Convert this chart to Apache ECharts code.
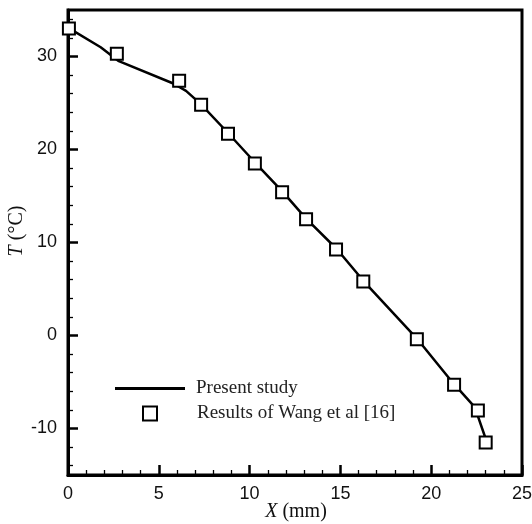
<!DOCTYPE html>
<html>
<head>
<meta charset="utf-8">
<script src="https://cdn.jsdelivr.net/npm/echarts@6/dist/echarts.min.js"></script>
<style>html,body{margin:0;padding:0;background:#fff;}#c{width:532px;height:524px;}</style>
</head>
<body>
<div id="c"></div>
<script>
// Present study (line)
const studyX = [0, 1.8, 2.8, 5.8, 6.5, 7.3, 8.8, 10.3, 11.8, 13.1, 14.8, 16.3, 19.2, 21.2, 22.4, 23.0];
const studyT = [33.1, 31.0, 29.5, 27.1, 26.3, 24.9, 21.8, 18.6, 15.5, 12.6, 9.3, 5.8, -0.3, -5.1, -7.7, -11.1];
// Results of Wang et al [16] (squares)
const wangX = [0.05, 2.69, 6.12, 7.33, 8.81, 10.29, 11.79, 13.11, 14.76, 16.26, 19.21, 21.26, 22.57, 23.0];
const wangT = [33.0, 30.3, 27.4, 24.8, 21.7, 18.5, 15.4, 12.5, 9.26, 5.8, -0.39, -5.3, -8.07, -11.5];
// Axis ticks
const xTicks = [0, 5, 10, 15, 20, 25];
const yMajor = [-10, 0, 10, 20, 30];
const yMinor = [-14, -12, -8, -6, -4, -2, 2, 4, 6, 8, 12, 14, 16, 18, 22, 24, 26, 28, 32, 34];

const zip = (a, b) => a.map((v, i) => [v, b[i]]);
const chart = echarts.init(document.getElementById('c'), null, {renderer: 'canvas'});
const labelFont = {fontFamily: 'Liberation Sans, Arial, sans-serif', fontSize: 18, color: '#111'};
const serif = 'Liberation Serif, Times New Roman, serif';

chart.setOption({
  animation: false,
  backgroundColor: '#fff',
  grid: {left: 68, right: 10, top: 10, bottom: 49, containLabel: false, outerBoundsMode: 'none',
         show: true, borderColor: '#000', borderWidth: 3},
  xAxis: {
    type: 'value', min: xTicks[0], max: xTicks[xTicks.length - 1], interval: 5,
    axisLine: {show: true, onZero: false, lineStyle: {color: '#000', width: 3}},
    axisTick: {show: true, inside: true, length: 10, lineStyle: {color: '#000', width: 2.5}},
    minorTick: {show: true, splitNumber: 5, length: 5, lineStyle: {color: '#000', width: 1.3}},
    splitLine: {show: false},
    axisLabel: Object.assign({margin: 10}, labelFont)
  },
  yAxis: [{
    type: 'value', min: -15, max: 35,
    axisLine: {show: true, onZero: false, lineStyle: {color: '#000', width: 3}},
    axisTick: {show: true, inside: true, length: 10, customValues: yMajor, lineStyle: {color: '#000', width: 2.5}},
    splitLine: {show: false},
    axisLabel: Object.assign({margin: 11, customValues: yMajor}, labelFont)
  }, {
    type: 'value', min: -15, max: 35, position: 'left',
    axisLine: {show: false, onZero: false},
    axisTick: {show: true, inside: true, length: 5, customValues: yMinor, lineStyle: {color: '#000', width: 1.3}},
    splitLine: {show: false},
    axisLabel: {show: false}
  }],
  legend: [{
    data: [{name: 'Present study', icon: 'rect'}], left: 115, top: 379, itemWidth: 70, itemHeight: 3,
    orient: 'vertical', padding: 0,
    textStyle: {fontFamily: serif, fontSize: 19, color: '#222', padding: [0, 0, 0, 6]}
  }, {
    data: ['Results of Wang et al [16]'], left: 142, top: 404, itemWidth: 14, itemHeight: 14,
    orient: 'vertical', padding: 0,
    textStyle: {fontFamily: serif, fontSize: 19, color: '#222', padding: [0, 0, 0, 35]}
  }],
  graphic: [{
    type: 'text', x: 17, y: 231, rotation: Math.PI / 2,
    style: {
      text: '{i|T} (°C)', textAlign: 'center', textVerticalAlign: 'middle',
      fontFamily: serif, fontSize: 20, fill: '#111',
      rich: {i: {fontFamily: serif, fontStyle: 'italic', fontSize: 20, fill: '#111'}}
    }
  }, {
    type: 'text', x: 296, y: 512,
    style: {
      text: '{i|X} (mm)', textAlign: 'center', textVerticalAlign: 'middle',
      fontFamily: serif, fontSize: 20, fill: '#111',
      rich: {i: {fontFamily: serif, fontStyle: 'italic', fontSize: 20, fill: '#111'}}
    }
  }],
  series: [{
    name: 'Present study', type: 'line', data: zip(studyX, studyT),
    symbol: 'none', lineStyle: {color: '#000', width: 2.5}, itemStyle: {color: '#000'}, z: 2
  }, {
    name: 'Results of Wang et al [16]', type: 'scatter', data: zip(wangX, wangT),
    symbol: 'rect', symbolSize: 12,
    itemStyle: {color: '#fff', borderColor: '#000', borderWidth: 2, opacity: 1}, z: 3
  }]
});
</script>
</body>
</html>
